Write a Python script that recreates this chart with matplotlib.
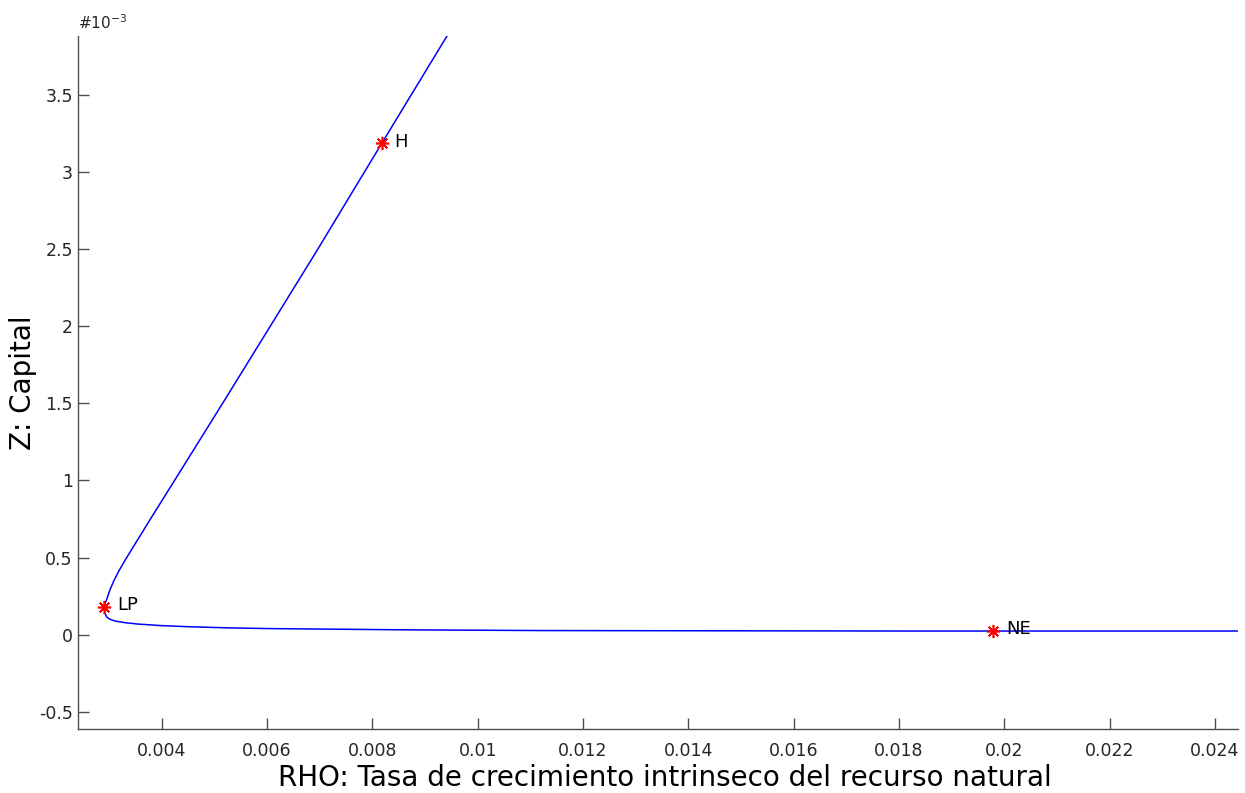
import matplotlib
matplotlib.use("Agg")
import matplotlib.pyplot as plt

# Continuation branch: RHO (intrinsic growth rate) vs Z (capital, x1e-3)
rho = [0.009417, 0.008183, 0.006954, 0.005221, 0.004500, 0.003777, 0.003544,
       0.003430, 0.003303, 0.003189, 0.003094, 0.003018, 0.002961, 0.002928,
       0.002912, 0.002910, 0.002913, 0.002923, 0.002950, 0.002986, 0.003040,
       0.003113, 0.003303, 0.003555, 0.004000, 0.004500, 0.005200, 0.006000,
       0.008524, 0.011250, 0.018080, 0.024431]
z_e3 = [3.880, 3.187, 2.493, 1.535, 1.140, 0.745, 0.616,
        0.553, 0.482, 0.415, 0.352, 0.292, 0.235, 0.205,
        0.190, 0.181, 0.162, 0.139, 0.118, 0.106, 0.097,
        0.089, 0.078, 0.069, 0.059, 0.052, 0.045, 0.040,
        0.032, 0.027, 0.024, 0.024]

# Special points found along the branch
pt_labels = ["H", "LP", "NE"]
pt_rho = [0.008183, 0.002910, 0.01979]
pt_z = [3.187, 0.181, 0.025]

xticks = [0.004, 0.006, 0.008, 0.01, 0.012, 0.014, 0.016, 0.018, 0.02, 0.022, 0.024]
xticklabels = ["0.004", "0.006", "0.008", "0.01", "0.012", "0.014", "0.016",
               "0.018", "0.02", "0.022", "0.024"]
yticks = [-0.5, 0, 0.5, 1, 1.5, 2, 2.5, 3, 3.5]
yticklabels = ["-0.5", "0", "0.5", "1", "1.5", "2", "2.5", "3", "3.5"]

plt.rcParams['font.family'] = ['DejaVu Sans']

fig = plt.figure(figsize=(12.45, 7.93), dpi=100)
ax = fig.add_axes([0.0629, 0.0803, 0.9312, 0.8747])

ax.plot(rho, z_e3, color="#0000ff", lw=1.1, solid_joinstyle="round")
ax.plot(pt_rho, pt_z, linestyle="none", marker=(8, 2, 0), color="#ff0000",
        markersize=9.5, markeredgewidth=1.2)
for lab, xr, yz in zip(pt_labels, pt_rho, pt_z):
    ax.annotate(lab, (xr, yz), xytext=(9, 1), textcoords="offset points",
                fontsize=13, va="center", ha="left", color="black")

ax.set_xlim(0.002416, 0.024431)
ax.set_ylim(-0.613, 3.882)
ax.set_xticks(xticks)
ax.set_xticklabels(xticklabels)
ax.set_yticks(yticks)
ax.set_yticklabels(yticklabels)

gray = "#4d4d4d"
for side in ("top", "right"):
    ax.spines[side].set_visible(False)
for side in ("left", "bottom"):
    ax.spines[side].set_color(gray)
    ax.spines[side].set_linewidth(1.0)
ax.tick_params(axis="both", direction="in", length=8, width=1.0, color=gray,
               labelcolor="#262626", labelsize=12.5)
ax.tick_params(axis="x", pad=9)
ax.tick_params(axis="y", pad=4)

ax.set_xlabel("RHO: Tasa de crecimiento intrinseco del recurso natural",
              fontsize=20, labelpad=2)
ax.xaxis.set_label_coords(0.506, -0.050)
ax.set_ylabel("Z: Capital", fontsize=20)
ax.yaxis.set_label_coords(-0.036, 0.5)

ax.text(0.0, 1.005, r"#10$^{\mathregular{-3}}$", transform=ax.transAxes,
        fontsize=11, color="#262626", ha="left", va="bottom")

fig.savefig("out.png", dpi=100)
